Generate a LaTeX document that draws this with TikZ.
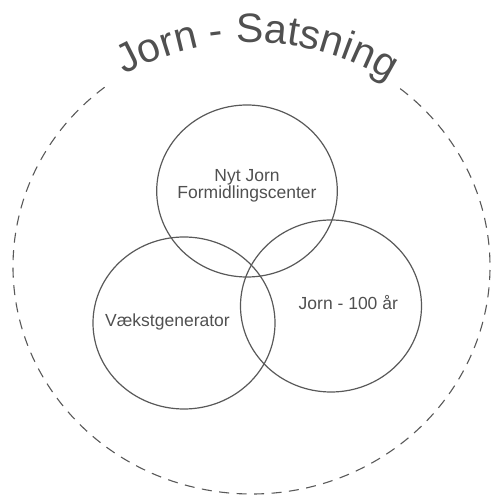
\documentclass[tikz,border=0pt]{standalone}
\usepackage{fontspec}
\setmainfont{Liberation Sans}
\usetikzlibrary{decorations.text,calc}
\definecolor{linecol}{HTML}{595959}
\definecolor{txtcol}{HTML}{505050}
\newcommand{\titlefont}{\fontsize{41}{45}\selectfont}
\tikzset{
  venn/.style={draw=linecol, line width=1.2pt},
  outerring/.style={draw=linecol, line width=1.1pt, dash pattern=on 10pt off 7.5pt},
  lbl/.style={text=txtcol, font=\fontsize{17.5}{17.3}\selectfont, inner sep=0pt, align=center},
}
\begin{document}
\begin{tikzpicture}[x=1pt,y=1pt]
\useasboundingbox (0,0) rectangle (491,495);
% centres
\coordinate (oc) at (251.5,228.5);
\coordinate (ctop) at (247,304);
\coordinate (cleft) at (184,172);
\coordinate (cright) at (331,189);
% outer dashed ring (open at the top where the title sits)
\coordinate (ringstart) at ($(oc)+(128:238.5 and 227.5)$);
\draw[outerring] (ringstart) arc[start angle=128, end angle=412, x radius=238.5, y radius=227.5];
% title along the arc
\coordinate (titlestart) at ($(oc)+(121.2:245 and 224)$);
\path[font=\titlefont, decorate, decoration={text along path, text={|\titlefont\color{txtcol}|Jorn - Satsning}, text align={fit to path}}]
  (titlestart) arc[start angle=121.2, end angle=55.8, x radius=245, y radius=224];
% three circles
\draw[venn] (ctop) ellipse[x radius=90.3, y radius=86];
\draw[venn] (cleft) ellipse[x radius=91, y radius=86];
\draw[venn] (cright) ellipse[x radius=90.5, y radius=86];
% labels
\node[lbl] (ltop) at (247,309) {Nyt Jorn\\Formidlingscenter};
\node[lbl, anchor=base] (lleft) at (167.5,168) {Vækstgenerator};
\node[lbl, anchor=base] (lright) at (348.3,185) {Jorn - 100 år};
\end{tikzpicture}
\end{document}
